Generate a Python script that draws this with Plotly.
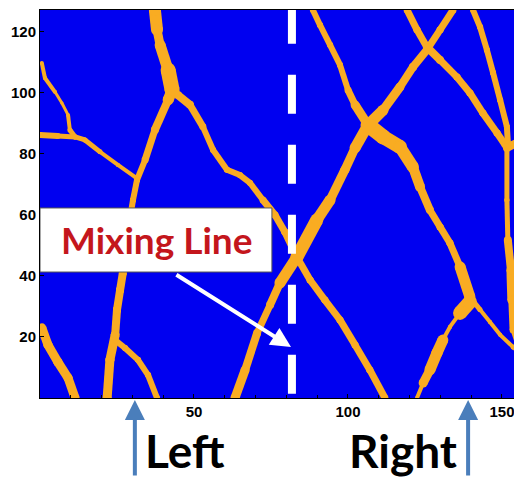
import plotly.graph_objects as go

BLUE = '#0000F0'
ORANGE = '#F9AC22'

# ---- fracture traces (x, y in grid units) and apertures (px) ----
a_x = [37.3, 38.0, 39.0, 41.6, 42.9, 41.6, 37.3, 34.1, 31.5, 30.2, 28.6, 26.9, 26.0, 25.0, 24.4, 22.7, 21.8]
a_y = [127.2, 120.7, 115.7, 107.5, 101.0, 97.7, 87.9, 78.0, 71.5, 64.9, 55.1, 41.0, 35.4, 28.9, 20.7, 12.5, 0.0]
a_w = [12, 9, 11, 15, 11, 8, 7, 6, 6, 6, 7, 8, 8, 8, 9, 9]

c_x = [44.8, 48.7, 52.9, 56.2, 60.7, 64.9, 68.2, 72.4, 76.3, 79.5, 83.4, 87.7, 92.5, 97.4, 102.3, 107.1, 112.0]
c_y = [99.3, 96.1, 88.9, 81.3, 74.8, 73.1, 70.5, 64.9, 60.0, 54.4, 46.2, 38.7, 32.1, 25.6, 17.4, 9.2, 0.0]
c_w = [8, 7, 6, 6, 6, 6, 6, 7, 7, 7, 7, 7, 7, 7, 7, 7]

l1_x = [0.6, 1.6, 4.9, 7.1, 9.1, 9.7, 11.4, 14.6, 19.5, 25.3, 30.8]
l1_y = [109.8, 104.9, 100.3, 96.7, 92.8, 87.9, 85.6, 84.6, 80.7, 76.4, 72.5]
l1_w = [4, 4, 3, 3, 4, 5, 5, 5, 4, 4]

l2_x = [0.0, 5.8, 11.4]
l2_y = [86.2, 85.9, 85.6]
l2_w = [6, 5]

lb_x = [0.6, 2.6, 5.8, 9.1, 11.4]
lb_y = [23.0, 17.4, 11.8, 6.6, 0.0]
lb_w = [9, 9, 9, 9]

ab_x = [24.4, 27.6, 31.8, 35.1, 38.0]
ab_y = [19.0, 16.4, 12.5, 7.5, 0.0]
ab_w = [6, 6, 6, 6]

b_x = [63.3, 66.6, 70.5, 74.7, 77.9, 83.4, 89.9, 94.2, 99.0, 102.3, 106.5, 111.4, 116.9, 121.1, 125.6, 129.9, 134.1]
b_y = [0.0, 9.2, 21.3, 30.5, 37.7, 46.2, 58.4, 64.9, 74.8, 82.0, 89.5, 94.4, 102.0, 108.5, 114.1, 120.7, 127.2]
b_w = [9, 8, 7, 8, 11, 13, 11, 9, 9, 11, 11, 9, 8, 8, 7, 7]

d_x = [88.6, 90.9, 94.2, 97.4, 100.0, 102.3, 106.5, 111.4, 116.9, 121.1, 123.4, 126.6, 129.9, 133.1, 136.4, 139.6]
d_y = [127.2, 122.3, 115.7, 109.2, 101.0, 96.1, 89.5, 85.6, 82.3, 75.7, 69.2, 61.6, 56.1, 50.8, 43.0, 33.1]
d_w = [6, 6, 6, 6, 7, 9, 15, 14, 12, 10, 8, 7, 7, 7, 11]

e_x = [139.6, 142.9, 146.1, 149.4, 153.6, 156.5]
e_y = [33.1, 28.9, 24.9, 20.7, 16.7, 15.1]
e_w = [5, 4, 4, 4, 5]

f_x = [139.6, 136.4, 133.1, 130.8, 128.9, 126.6, 124.4, 122.4]
f_y = [31.5, 27.9, 23.3, 19.0, 14.8, 9.2, 4.9, 0.0]
f_w = [14, 4, 4, 11, 11, 9, 4]

g_x = [119.2, 122.4, 125.6, 129.9, 135.4, 139.6, 143.8, 148.4, 151.0]
g_y = [127.2, 120.7, 115.1, 110.8, 105.2, 100.0, 93.4, 86.9, 83.0]
g_w = [7, 7, 8, 7, 7, 7, 7, 7]

h_x = [140.6, 142.9, 145.1, 147.1, 149.4, 151.6, 151.9]
h_y = [127.2, 121.6, 114.1, 106.6, 97.7, 88.9, 83.6]
h_w = [6, 6, 6, 6, 6, 6]

j_x = [151.6, 156.5]
j_y = [82.0, 84.6]
j_w = [8]

i_x = [151.6, 151.6, 151.9, 152.9, 153.2, 153.6, 155.2]
i_y = [81.3, 64.9, 51.8, 42.0, 32.1, 22.3, 17.4]
i_w = [5, 5, 8, 9, 7, 5]

mixing_x = 81.8
x_ticks = [50, 100, 150]
y_ticks = [20, 40, 60, 80, 100, 120]
left_arrow_x = 30.8
right_arrow_x = 139.0

FRACTURES = [(a_x, a_y, a_w), (c_x, c_y, c_w), (l1_x, l1_y, l1_w), (l2_x, l2_y, l2_w),
             (lb_x, lb_y, lb_w), (ab_x, ab_y, ab_w), (b_x, b_y, b_w), (d_x, d_y, d_w),
             (e_x, e_y, e_w), (f_x, f_y, f_w), (g_x, g_y, g_w), (h_x, h_y, h_w),
             (j_x, j_y, j_w), (i_x, i_y, i_w)]

fig = go.Figure()
for xs, ys, ws in FRACTURES:
    for k, w in enumerate(ws):
        fig.add_trace(go.Scatter(
            x=xs[k:k + 2], y=ys[k:k + 2], mode='lines+markers',
            line=dict(color=ORANGE, width=w), marker=dict(size=w, color=ORANGE),
            hoverinfo='skip', showlegend=False))

# dashed mixing line
fig.add_trace(go.Scatter(x=[mixing_x, mixing_x], y=[128.9, 0], mode='lines',
                         line=dict(color='white', width=8, dash='39px,31px'),
                         hoverinfo='skip', showlegend=False))

tickfont = dict(family='Arial', size=15, color='black', weight='bold')
fig.update_layout(
    width=514, height=469,
    margin=dict(l=32, r=0, t=2, b=79, autoexpand=False),
    plot_bgcolor=BLUE, paper_bgcolor='white',
    showlegend=False,
    xaxis=dict(range=[0, 156.5], tickvals=x_ticks, ticks='inside', ticklen=4,
               tickcolor='black', showline=True, linecolor='black', linewidth=1,
               mirror=True, showgrid=False, zeroline=False, tickfont=tickfont,
               automargin=False,
               minor=dict(dtick=10, ticks='inside', ticklen=3, tickcolor='black')),
    yaxis=dict(range=[0, 127.2], tickvals=y_ticks, ticks='inside', ticklen=4,
               tickcolor='black', showline=True, linecolor='black', linewidth=1,
               showgrid=False, zeroline=False, tickfont=tickfont, automargin=False),
)

# annotation box
fig.add_shape(type='rect', xref='x', yref='y', x0=0, x1=75.3, y0=41.3, y1=62.3,
              fillcolor='white', line=dict(color='#555555', width=1), layer='above')
fig.add_annotation(x=37.7, y=51.8, xref='x', yref='y', text='<b>Mixing Line</b>',
                   showarrow=False, font=dict(family='Lato', size=37, color='#C4161C'))
fig.add_annotation(x=mixing_x - 0.3, y=16.7, xref='x', yref='y', ax=43.8, ay=40.7,
                   axref='x', ayref='y', text='', showarrow=True, arrowhead=2,
                   arrowsize=1, arrowwidth=4, arrowcolor='white')

# Left / Right markers below the axis
for ax_x in (left_arrow_x, right_arrow_x):
    fig.add_annotation(x=ax_x, y=-0.005, xref='x', yref='paper', ax=0, ay=82,
                       text='', showarrow=True, arrowhead=2, arrowsize=1,
                       arrowwidth=4, arrowcolor='#4A7EBB')
fig.add_annotation(x=47.1, y=-0.211, xref='x', yref='paper', yanchor='bottom',
                   text='<b>Left</b>', showarrow=False,
                   font=dict(family='Lato', size=46, color='black'))
fig.add_annotation(x=117.9, y=-0.211, xref='x', yref='paper', yanchor='bottom',
                   text='<b>Right</b>', showarrow=False,
                   font=dict(family='Lato', size=46, color='black'))

fig.write_html('out.html')
